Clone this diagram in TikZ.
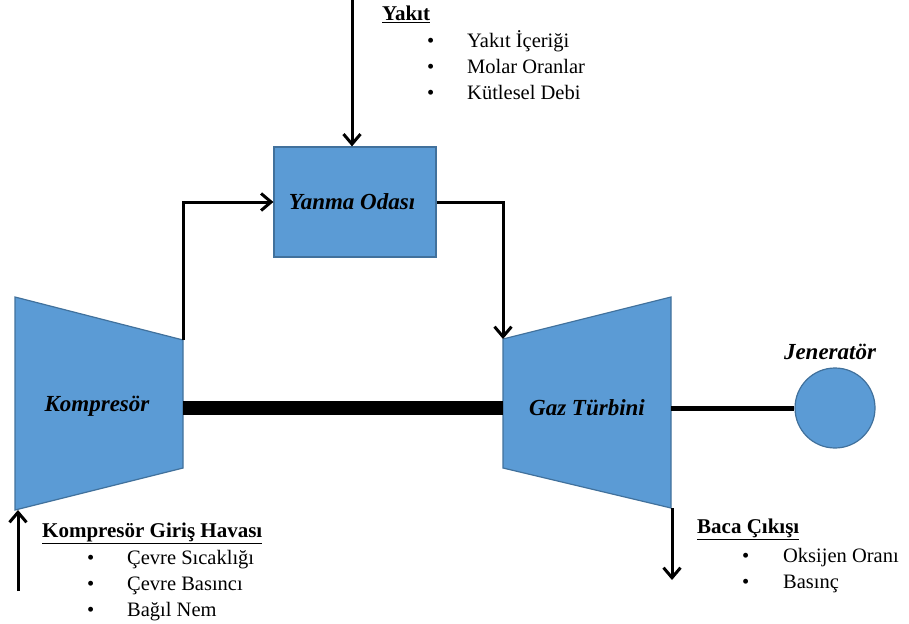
\documentclass[tikz,border=0pt]{standalone}
\usepackage{fontspec}
\setmainfont{Liberation Serif}
\usetikzlibrary{arrows.meta}

\begin{document}
\begin{tikzpicture}[x=1pt, y=-1pt,
    every node/.style={font=\fontsize{20.5}{26}\selectfont},
    part label/.style={font=\fontsize{23}{26}\selectfont\bfseries\itshape},
    heading/.style={font=\fontsize{21}{26}\selectfont\bfseries, anchor=base west, inner sep=0pt},
    item list/.style={anchor=base west, inner sep=0pt},
    machine/.style={draw=partedge, fill=partfill, line width=1.2pt},
    flow/.style={line width=3pt, -{Straight Barb[length=10pt, width=17pt, line width=3pt]}}
]
\definecolor{partfill}{RGB}{91,155,213}   % Office blue
\definecolor{partedge}{RGB}{65,113,156}   % darker blue

\useasboundingbox (0,0) rectangle (909,623);

% Kompresor and turbine shells
\draw[machine] (15,297) coordinate (comp-nw) -- (183,340) coordinate (comp-ne)
    -- (183,468) coordinate (comp-se) -- (15,510) coordinate (comp-sw) -- cycle;
\draw[machine] (503,339) coordinate (turb-nw) -- (671,297) coordinate (turb-ne)
    -- (671,508) coordinate (turb-se) -- (503,468) coordinate (turb-sw) -- cycle;
\coordinate (comp-e) at (183,408);
\coordinate (turb-w) at (503,408);
\coordinate (turb-e) at (671,408);

\node[part label] (comp) at (97,406) {Kompresör};
\node[part label] (turb) at (587,408) {Gaz Türbini};

% combustion chamber and generator
\node[machine, minimum width=162pt, minimum height=110pt, inner sep=0pt] (burner) at (355,202) {};
\node[part label] (burnerlabel) at (352,202) {Yanma Odası};
\node[machine, circle, minimum size=80pt, inner sep=0pt] (gen) at (835,408) {};
\node[part label] (genlabel) at (830,352) {Jeneratör};

% shafts
\draw[line width=14pt] (comp-e) -- (turb-w);
\draw[line width=5pt] (turb-e) -- (gen.west);

% gas flow
\draw[flow] (comp-ne) |- (burner.west);
\draw[flow] (burner.east) -| (turb-nw);
\coordinate (fuel-in) at (352,0);
\draw[flow] (fuel-in) -- (fuel-in |- burner.north);
\coordinate (air-in) at (18,591);
\draw[flow] (air-in) -- (air-in |- comp-sw);
\coordinate (stack-out) at (672,580);
\draw[flow] (turb-se -| stack-out) -- (stack-out);

% fuel data
\node[heading] (fuelhead) at (382,21) {\underline{Yakıt}};
\node[item list] (fuellist) at (427,48) {\begin{tabular}[t]{@{}p{40pt}@{}l@{}}
    \textbullet & Yakıt İçeriği\\
    \textbullet & Molar Oranlar\\
    \textbullet & Kütlesel Debi
\end{tabular}};

% inlet air data
\node[heading] (airhead) at (42,537) {\underline{Kompresör Giriş Havası}};
\node[item list] (airlist) at (87,564) {\begin{tabular}[t]{@{}p{40pt}@{}l@{}}
    \textbullet & Çevre Sıcaklığı\\
    \textbullet & Çevre Basıncı\\
    \textbullet & Bağıl Nem
\end{tabular}};

% stack data
\node[heading] (stackhead) at (697,533) {\underline{Baca Çıkışı}};
\node[item list] (stacklist) at (742,562) {\begin{tabular}[t]{@{}p{41pt}@{}l@{}}
    \textbullet & Oksijen Oranı\\
    \textbullet & Basınç
\end{tabular}};

\end{tikzpicture}
\end{document}
